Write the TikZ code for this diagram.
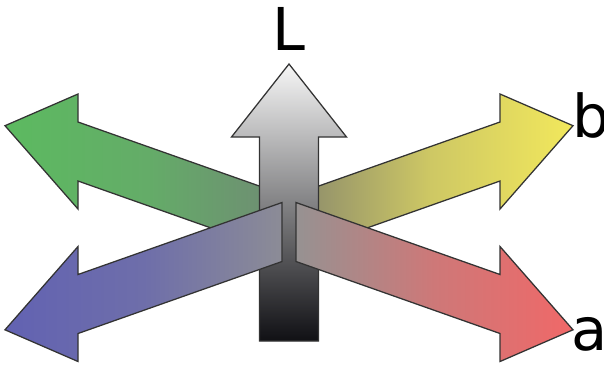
\documentclass[tikz,border=0pt]{standalone}
\usepackage{fontspec}
\setsansfont{DejaVu Sans}
\definecolor{greenTip}{RGB}{92,186,96}
\definecolor{greenHalf}{RGB}{100,172,104}
\definecolor{greenMid}{RGB}{112,138,116}
\definecolor{yellowTip}{RGB}{242,232,92}
\definecolor{yellowHalf}{RGB}{206,200,100}
\definecolor{yellowMid}{RGB}{136,136,108}
\definecolor{blueTip}{RGB}{98,98,178}
\definecolor{blueHalf}{RGB}{110,110,170}
\definecolor{blueMid}{RGB}{140,140,150}
\definecolor{redTip}{RGB}{240,104,104}
\definecolor{redHalf}{RGB}{206,120,120}
\definecolor{redMid}{RGB}{150,146,146}
\definecolor{lightTop}{RGB}{246,246,246}
\definecolor{lightBot}{RGB}{16,16,20}
\begin{document}
\begin{tikzpicture}[x=0.025cm, y=-0.025cm, arrowpoly/.style={draw=black!80, line width=0.9pt, line join=miter}, lbl/.style={font=\sffamily\fontsize{42}{42}\selectfont, inner sep=0pt}]
\useasboundingbox (0,0) rectangle (604,364);
% a axis, green end and b axis, yellow end (behind L)
\path[arrowpoly, left color=greenTip, right color=greenMid, middle color=greenHalf] (289,196.5) -- (78,122) -- (78,94) -- (5,125.7) -- (78,209) -- (78,181) -- (289,255.5) -- cycle;
\path[arrowpoly, left color=yellowMid, right color=yellowTip, middle color=yellowHalf] (289,196.5) -- (500,122) -- (500,94) -- (573,125.7) -- (500,209) -- (500,181) -- (289,255.5) -- cycle;
% L axis
\path[arrowpoly, top color=lightTop, bottom color=lightBot] (289,64) -- (346.5,137) -- (318.5,137) -- (318.5,341) -- (259.5,341) -- (259.5,137) -- (231.5,137) -- cycle;
% b axis, blue end and a axis, red end (in front of L)
\path[arrowpoly, left color=blueTip, right color=blueMid, middle color=blueHalf] (282,202.5) -- (78,274.5) -- (78,246.5) -- (5,329.8) -- (78,361.5) -- (78,333.5) -- (282,261.5) -- cycle;
\path[arrowpoly, left color=redMid, right color=redTip, middle color=redHalf] (296,202.5) -- (500,274.5) -- (500,246.5) -- (573,329.8) -- (500,361.5) -- (500,333.5) -- (296,261.5) -- cycle;
% labels
\node[lbl, anchor=base] (labL) at (289,50) {L};
\node[lbl, anchor=base west] (labb) at (572,137) {b};
\node[lbl, anchor=base west] (laba) at (571,350) {a};
\end{tikzpicture}
\end{document}
